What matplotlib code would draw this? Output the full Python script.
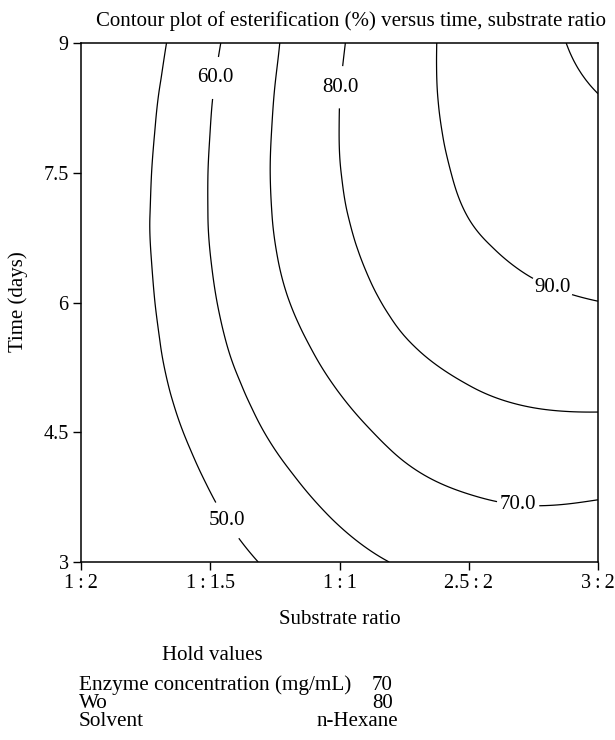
import numpy as np
import matplotlib.pyplot as plt
import matplotlib.tri as mtri

plt.rcParams['font.family'] = ['Liberation Serif', 'DejaVu Serif']

# Eje x: razon de sustrato (posiciones equiespaciadas en el eje)
ratio_pos = [0, 1, 2, 3, 4]
ratio_labels = ['1\u2009:\u20092', '1\u2009:\u20091.5', '1\u2009:\u20091', '2.5\u2009:\u20092', '3\u2009:\u20092']
time_ticks = [3, 4.5, 6, 7.5, 9]
time_labels = ['3', '4.5', '6', '7.5', '9']

# Malla donde se leyeron los valores del grafico
grid_x = [0, 0.5, 1, 1.5, 2, 2.5, 3, 3.5, 4]
grid_y = [3, 3.5, 4, 4.5, 5, 5.5, 6, 6.5, 7, 7.5, 8, 8.5, 9]

# Esterificacion (%) estimada, una fila por cada tiempo (dias)
esterificacion = [
    [38.2, 41.6, 45.9, 51.5, 57.0, 60.7, 62.8, 63.3, 62.2],    # 3
    [39.0, 43.2, 48.5, 55.0, 60.6, 64.8, 67.4, 68.5, 67.6],    # 3.5
    [39.6, 44.6, 50.9, 58.1, 64.0, 68.8, 71.9, 73.3, 73.0],    # 4
    [40.0, 45.9, 53.3, 61.2, 67.2, 72.4, 76.0, 77.7, 77.9],    # 4.5
    [40.1, 47.0, 55.6, 63.8, 70.3, 75.9, 79.7, 81.7, 82.3],    # 5
    [40.2, 47.9, 57.5, 66.2, 73.1, 79.3, 82.9, 85.3, 86.3],    # 5.5
    [40.4, 48.6, 58.9, 68.2, 75.6, 82.0, 85.7, 88.4, 89.9],    # 6
    [40.5, 49.1, 59.9, 69.6, 77.6, 84.0, 88.1, 91.2, 92.9],    # 6.5
    [40.4, 49.3, 60.4, 70.4, 79.0, 85.4, 90.1, 93.5, 95.5],    # 7
    [39.9, 49.0, 60.4, 70.7, 79.8, 86.3, 91.3, 95.3, 97.5],    # 7.5
    [39.1, 48.4, 60.0, 70.5, 80.05, 86.8, 92.2, 96.6, 99.0],   # 8
    [38.1, 47.5, 59.3, 70.0, 79.85, 87.0, 92.8, 97.6, 100.2],  # 8.5
    [36.9, 46.3, 58.1, 69.2, 79.2, 86.8, 93.0, 98.2, 101.3],   # 9
]

niveles = [50, 60, 70, 80, 90, 100]
niveles_etiqueta = [50, 60, 70, 80, 90]
# donde van las etiquetas (cerca de cada curva)
pos_etiquetas = [(1.11, 3.46), (1.02, 8.60), (3.38, 3.64), (2.00, 8.49), (3.63, 6.12)]

# Valores fijos
hold_nombres = ['Enzyme concentration (mg/mL)', 'Wo', 'Solvent']
hold_valores = ['70', '80', 'n-Hexane']

fs = 15

fig = plt.figure(figsize=(6.15, 7.4), dpi=100)
ax = fig.add_axes([81 / 615, 1 - 562 / 740, 517 / 615, 519 / 740])

# malla triangular refinada para que las curvas salgan suaves
X, Y = np.meshgrid(grid_x, grid_y)
Z = np.array(esterificacion)
tri = mtri.Triangulation(X.ravel(), Y.ravel())
interp = mtri.CubicTriInterpolator(tri, Z.ravel(), kind='min_E')
refiner = mtri.UniformTriRefiner(tri)
tri_fina, z_fina = refiner.refine_field(Z.ravel(), triinterpolator=interp, subdiv=4)

cs = ax.tricontour(tri_fina, z_fina, levels=niveles, colors='black', linewidths=0.9)
etiquetas = ax.clabel(cs, levels=niveles_etiqueta, fmt='%.1f', manual=pos_etiquetas,
                      inline=True, inline_spacing=3, fontsize=fs)
for t in etiquetas:
    t.set_rotation(0)

ax.set_xlim(0, 4)
ax.set_ylim(3, 9)
ax.set_xticks(ratio_pos)
ax.set_xticklabels(ratio_labels)
ax.set_yticks(time_ticks)
ax.set_yticklabels(time_labels)
ax.tick_params(direction='out', length=6, width=1, labelsize=14.5, pad=3)
for s in ax.spines.values():
    s.set_linewidth(1.1)

fig.text(96 / 615, 1 - 21 / 740, 'Contour plot of esterification (%) versus time, substrate ratio',
         fontsize=15, ha='left', va='center')
fig.text(340 / 615, 1 - 620 / 740, 'Substrate ratio', fontsize=fs, ha='center', va='center')
fig.text(18 / 615, 1 - 302 / 740, 'Time (days)', fontsize=fs, ha='center', va='center',
         rotation=90)

fig.text(162 / 615, 1 - 655 / 740, 'Hold values', fontsize=fs, ha='left', va='center')
filas_y = [685, 703, 721]
for nombre, valor, yy in zip(hold_nombres, hold_valores, filas_y):
    fig.text(79 / 615, 1 - yy / 740, nombre, fontsize=15.3, ha='left', va='center')
    if valor == 'n-Hexane':
        fig.text(398 / 615, 1 - yy / 740, valor, fontsize=fs, ha='right', va='center')
    else:
        fig.text(372 / 615, 1 - yy / 740, valor, fontsize=fs, ha='left', va='center')

fig.savefig('out.png', dpi=100)
